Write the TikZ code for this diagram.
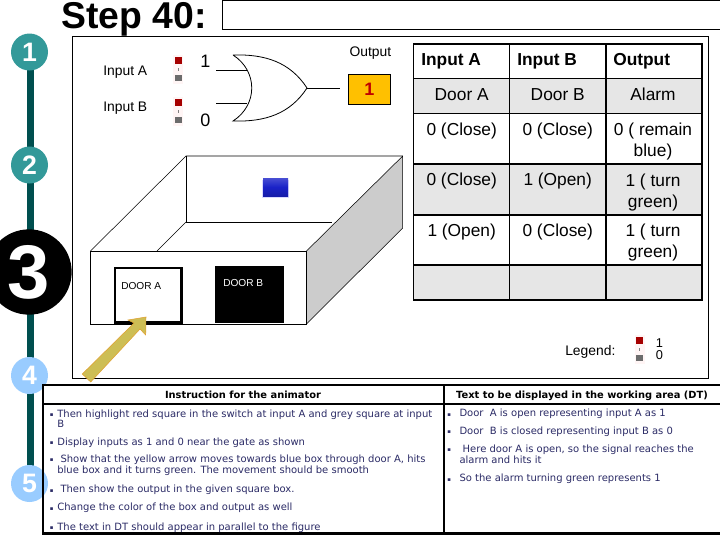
\documentclass[tikz,border=0pt]{standalone}
\usepackage{fontspec}
\setmainfont{Liberation Sans}
\newfontfamily\itemfont{DejaVu Sans}
\usetikzlibrary{positioning}

\definecolor{barteal}{HTML}{004F4F}
\definecolor{stepteal}{HTML}{339999}
\definecolor{stepblue}{HTML}{99CCFF}
\definecolor{rowgrey}{HTML}{E6E6E6}
\definecolor{sidegrey}{HTML}{CCCCCC}
\definecolor{itemblue}{HTML}{2B2B66}
\definecolor{arrowfill}{HTML}{CDBE55}
\definecolor{arrowline}{HTML}{E0A030}
\definecolor{outfill}{HTML}{FFC000}
\definecolor{outtext}{HTML}{C00000}
\definecolor{boxblue}{HTML}{1A22C8}

\newcommand{\fs}[1]{\fontsize{#1}{#1}\selectfont}

\tikzset{
  stepnum/.style={circle, inner sep=0pt, minimum size=27.75pt, text=white, font=\fs{20}\bfseries},
  cell/.style={anchor=base, inner sep=0pt, align=center, font=\fontsize{13}{15.75}\selectfont},
  headcell/.style={anchor=base west, inner sep=0pt, font=\fontsize{13}{15.75}\selectfont\bfseries},
  plain/.style={anchor=base west, inner sep=0pt, font=\fs{10.4}},
  doorlab/.style={anchor=base west, inner sep=0pt, font=\fs{7.6}},
  head/.style={anchor=base, inner sep=0pt, font=\itemfont\fs{7.4}\bfseries},
  item/.style={anchor=base west, inner sep=0pt, align=left, text=itemblue, font=\itemfont\fontsize{7.5}{7.2}\selectfont},
  toggle/.pic={
    \fill[white!96!red] (-5,-6) rectangle (5,23);
    \fill[red!65!black] (-3.5,-3.5) rectangle (3.5,3.5);
    \fill[gray] (-0.3,7) rectangle (0.3,10);
    \fill[gray!85!black] (-3.5,14) rectangle (3.5,20);
  }
}
\newcommand{\itm}[1][5.7pt]{\makebox[#1][l]{\raisebox{0.5pt}{\fs{4}▪}}}

\begin{document}
\begin{tikzpicture}[x=0.75pt, y=-0.75pt]
  \useasboundingbox (0,0) rectangle (720,540);

  % Timeline
  \coordinate (bartop) at (30.5,52);
  \coordinate (barend) at (30.5,483);
  \draw[barteal, line width=5.2pt] (bartop) -- (barend);
  \node[stepnum, fill=stepteal] (s1) at (29.5,52) {1};
  \node[stepnum, fill=stepteal] (s2) at (29.5,165) {2};
  \node[stepnum, fill=black, minimum size=64pt, font=\fs{57}\bfseries] (s3) at (29,272) {3};
  \node[stepnum, fill=stepblue] (s4) at (29.5,375.5) {4};

  % Title
  \node[anchor=base west, inner sep=0pt, font=\fs{28}\bfseries] (title) at (61,28) {Step 40:};
  \node[draw, anchor=north west, inner sep=0pt, minimum width=373.5pt, minimum height=21.5pt] (titlebox) at (222,0) {};

  % Frame
  \draw[semithick] (72.5,36) rectangle (708,378);

  % Inputs
  \node[plain] (ina) at (103,75) {Input A};
  \node[plain] (inb) at (103,111.7) {Input B};
  \pic at (178,60.5) {toggle};
  \pic at (178,102.5) {toggle};
  \node[anchor=base west, inner sep=0pt, font=\fs{13.5}] (vala) at (200,67) {1};
  \node[anchor=base west, inner sep=0pt, font=\fs{13.5}] (valb) at (200,126.7) {0};

  % Gate
  \coordinate (gtop) at (233,55);
  \coordinate (gbot) at (233,121);
  \coordinate (gout) at (307,88);
  \coordinate (wa) at (216,70.7);
  \coordinate (wb) at (216,103.7);
  \coordinate (ga) at (247,70.7);
  \coordinate (gb) at (247,103.7);
  \coordinate (we) at (340.3,88);
  \draw[semithick] (gtop) .. controls (265,54) and (290,62) .. (gout)
    .. controls (290,114) and (265,122) .. (gbot)
    .. controls (258,105) and (258,71) .. (gtop);
  \draw[semithick] (wa) -- (ga);
  \draw[semithick] (wb) -- (gb);
  \draw[semithick] (gout) -- (we);

  % Output
  \node[plain] (outlab) at (349.3,56) {Output};
  \node[draw, fill=outfill, text=outtext, inner sep=0pt, minimum width=31.5pt, minimum height=22.5pt, font=\fs{13.5}\bfseries] (outbox) at (369.3,89.3) {1};

  % Box
  \fill[sidegrey] (306.5,251) -- (402.7,156) -- (402.7,228) -- (306.5,324) -- cycle;
  \draw (306.5,251) -- (402.7,156) -- (402.7,228) -- (306.5,324);
  \draw (90.5,251) -- (186,156) -- (402.7,156);
  \draw (186,156) -- (186,222) -- (332,222);
  \draw (186,222) -- (157,251);
  \draw[fill=white] (90.5,251) rectangle (306.5,324);
  \node[draw, fill=white, line width=1.6pt, anchor=north west, inner sep=0pt, minimum width=50pt, minimum height=41pt] (doora) at (113.8,266.8) {};
  \node[fill=black, anchor=north west, inner sep=0pt, minimum width=51.75pt, minimum height=42.5pt] (doorb) at (215,266) {};
  \node[doorlab] (doorlaba) at (121,289) {DOOR A};
  \node[doorlab, text=white] (doorlabb) at (223,286.7) {DOOR B};
  \fill[blue!15] (262,180) rectangle (289,198);
  \shade[top color=boxblue!80!white, bottom color=boxblue!85!black, middle color=boxblue] (263,178) rectangle (288,196);

  % Arrow
  \draw[fill=arrowfill, draw=arrowline] (146,317) -- (145.7,335) -- (140,329) -- (90.7,382) -- (82.3,374) -- (134,323) -- (128,320) -- cycle;

  % Truth table
  \foreach \ya/\yb in {78.7/113.3, 164/215, 265/300}
    \fill[rowgrey] (413.7,\ya) rectangle (702,\yb);
  \foreach \yy in {44, 78.7, 113.3, 164, 215, 265, 300}
    \draw[line width=1.1pt] (413,\yy) -- (702.7,\yy);
  \foreach \xx in {413.7, 509.7, 606, 702}
    \draw[line width=1.1pt] (\xx,44) -- (\xx,300);

  \node[headcell] (h1) at (421,65) {Input A};
  \node[headcell] (h2) at (517,65) {Input B};
  \node[headcell] (h3) at (613,65) {Output};
  \node[cell] (d1) at (461.7,100) {Door A};
  \node[cell] (d2) at (557.7,100) {Door B};
  \node[cell] (d3) at (653,100) {Alarm};
  \node[cell] (r11) at (461.7,135) {0 (Close)};
  \node[cell] (r12) at (557.7,135) {0 (Close)};
  \node[cell] (r13) at (653,156) {0 ( remain\\blue)};
  \node[cell] (r21) at (461.7,185) {0 (Close)};
  \node[cell] (r22) at (557.7,185) {1 (Open)};
  \node[cell] (r23) at (653,207) {1 ( turn\\green)};
  \node[cell] (r31) at (461.7,236) {1 (Open)};
  \node[cell] (r32) at (557.7,236) {0 (Close)};
  \node[cell] (r33) at (653,257) {1 ( turn\\green)};

  % Legend
  \node[plain] (leg) at (565,355) {Legend:};
  \pic at (639.5,340.5) {toggle};
  \node[plain, align=center, font=\fontsize{9.6}{8.5}\selectfont] (legvals) at (655.5,359) {1\\0};

  % Notes
  \fill[white] (42.5,384.5) rectangle (720,534);
  \node[stepnum, fill=stepblue] (s5) at (29.5,483.5) {5};
  \draw[line width=1.9pt] (720,385) -- (43,385) -- (43,533.5) -- (720,533.5);
  \draw[line width=0.9pt] (43,404) -- (720,404);
  \draw[line width=1.4pt] (444,385) -- (444,533.5);

  \node[head] (notehead) at (243,398) {Instruction for the animator};
  \node[head] (dthead) at (582,398) {Text to be displayed in the working area (DT)};

  \node[item] (n1) at (49.5,427) {\itm Then highlight red square in the switch at input A and grey square at input\\\hspace*{5.7pt}B};
  \node[item] (n2) at (49.5,445) {\itm Display inputs as 1 and 0 near the gate as shown};
  \node[item] (n3) at (49.5,473) {\itm \ Show that the yellow arrow moves towards blue box through door A, hits\\\hspace*{5.7pt}blue box and it turns green. The movement should be smooth};
  \node[item] (n4) at (49.5,492.7) {\itm \ Then show the output in the given square box.};
  \node[item] (n5) at (49.5,510.7) {\itm Change the color of the box and output as well};
  \node[item] (n6) at (49.5,530) {\itm The text in DT should appear in parallel to the figure};

  \node[item] (t1) at (447,416.7) {\itm[9.2pt]Door\ \ A is open representing input A as 1};
  \node[item] (t2) at (447,434) {\itm[9.2pt]Door\ \ B is closed representing input B as 0};
  \node[item] (t3) at (447,463) {\itm[9.2pt]\ Here door A is open, so the signal reaches the\\\hspace*{9.2pt}alarm and hits it};
  \node[item] (t4) at (447,481.7) {\itm[9.2pt]So the alarm turning green represents 1};

\end{tikzpicture}
\end{document}
